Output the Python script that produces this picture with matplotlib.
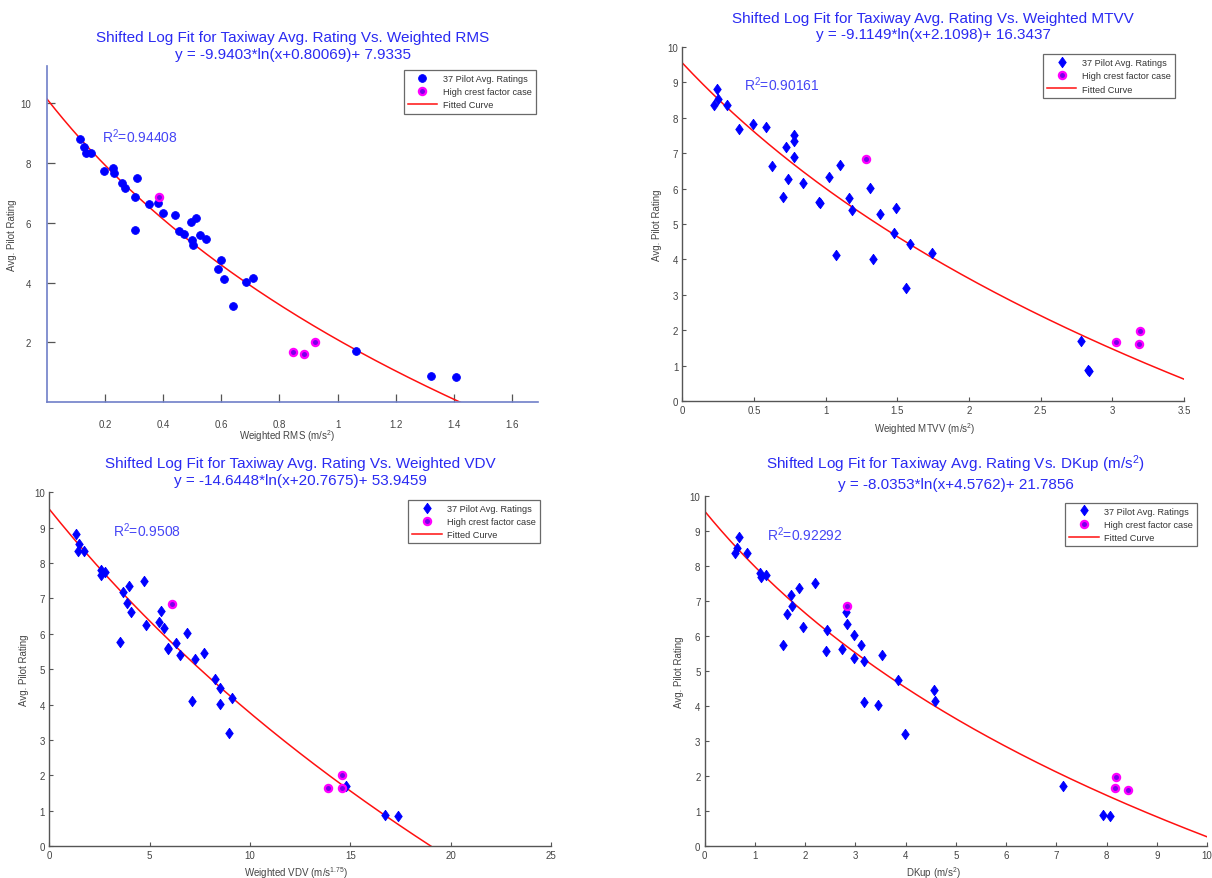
import numpy as np
import matplotlib as mpl
mpl.use("Agg")
import matplotlib.pyplot as plt
from matplotlib.ticker import FormatStrFormatter

mpl.rcParams['font.family'] = ['Liberation Sans', 'DejaVu Sans']
mpl.rcParams['mathtext.fontset'] = 'custom'
mpl.rcParams['mathtext.rm'] = 'Liberation Sans'
mpl.rcParams['mathtext.it'] = 'Liberation Sans:italic'

TITLE_BLUE = '#2a2af2'
R2_BLUE = '#4646f5'
LABEL_GREY = '#444444'

# ---- panel 1: weighted RMS ----
rms_x = [0.113, 0.126, 0.133, 0.151, 0.195, 0.228, 0.231, 0.258, 0.268, 0.309, 0.302,
         0.302, 0.351, 0.383, 0.400, 0.439, 0.455, 0.471, 0.494, 0.514, 0.500, 0.503,
         0.528, 0.548, 0.599, 0.590, 0.610, 0.684, 0.708, 0.640, 1.065, 1.323, 1.408]
rms_y = [8.82, 8.54, 8.35, 8.35, 7.73, 7.85, 7.68, 7.34, 7.18, 7.49, 6.86,
         5.75, 6.62, 6.65, 6.33, 6.26, 5.73, 5.64, 6.03, 6.16, 5.42, 5.26,
         5.59, 5.47, 4.74, 4.44, 4.11, 4.02, 4.16, 3.20, 1.71, 0.87, 0.84]
rms_crest_x = [0.385, 0.848, 0.885, 0.922]
rms_crest_y = [6.86, 1.67, 1.62, 2.00]

# ---- panel 2: weighted MTVV ----
mtvv_x = [0.218, 0.242, 0.245, 0.313, 0.392, 0.492, 0.585, 0.720, 0.780, 0.780, 0.780,
          0.623, 0.734, 0.704, 0.843, 0.952, 0.957, 1.025, 1.101, 1.072, 1.164, 1.180,
          1.308, 1.327, 1.376, 1.488, 1.479, 1.588, 1.558, 1.740, 2.782, 2.828, 2.834]
mtvv_y = [8.37, 8.81, 8.52, 8.36, 7.68, 7.81, 7.73, 7.18, 7.51, 7.35, 6.89,
          6.64, 6.27, 5.75, 6.17, 5.61, 5.58, 6.32, 6.66, 4.13, 5.73, 5.40,
          6.03, 4.01, 5.27, 5.46, 4.74, 4.45, 3.20, 4.18, 1.71, 0.88, 0.85]
mtvv_crest_x = [1.278, 3.024, 3.185, 3.196]
mtvv_crest_y = [6.84, 1.66, 1.62, 1.98]

# ---- panel 3: weighted VDV ----
vdv_x = [1.32, 1.49, 1.42, 1.73, 2.58, 2.58, 2.79, 4.73, 3.95, 3.68, 3.86,
         4.06, 5.55, 4.84, 5.46, 5.71, 3.52, 5.89, 5.92, 6.30, 6.87, 6.53,
         7.28, 7.72, 8.24, 8.49, 8.49, 9.11, 7.10, 8.97, 14.77, 16.73, 17.38]
vdv_y = [8.82, 8.53, 8.35, 8.35, 7.81, 7.67, 7.74, 7.50, 7.34, 7.19, 6.87,
         6.63, 6.66, 6.25, 6.33, 6.17, 5.76, 5.59, 5.56, 5.73, 6.03, 5.39,
         5.28, 5.46, 4.73, 4.46, 4.01, 4.18, 4.11, 3.20, 1.71, 0.87, 0.85]
vdv_crest_x = [6.09, 13.90, 14.60, 14.60]
vdv_crest_y = [6.85, 1.66, 1.64, 2.00]

# ---- panel 4: DKup ----
dkup_x = [0.61, 0.65, 0.68, 0.85, 1.10, 1.12, 1.22, 2.19, 1.88, 1.72, 1.74,
          1.63, 2.82, 1.95, 2.84, 2.44, 1.55, 2.42, 2.73, 2.98, 2.97, 3.12,
          3.17, 3.54, 3.84, 4.56, 4.58, 3.18, 3.46, 3.99, 7.13, 7.93, 8.07]
dkup_y = [8.38, 8.52, 8.83, 8.36, 7.81, 7.67, 7.74, 7.50, 7.36, 7.18, 6.86,
          6.62, 6.67, 6.26, 6.33, 6.18, 5.74, 5.58, 5.62, 6.02, 5.38, 5.73,
          5.29, 5.46, 4.73, 4.46, 4.14, 4.11, 4.02, 3.19, 1.70, 0.88, 0.84]
dkup_crest_x = [2.84, 8.16, 8.19, 8.42]
dkup_crest_y = [6.86, 1.65, 1.97, 1.60]

# shifted log fit coefficients y = a*ln(x+b) + c, from the titles
fit_a = [-9.9403, -9.1149, -14.6448, -8.0353]
fit_b = [0.80069, 2.1098, 20.7675, 4.5762]
fit_c = [7.9335, 16.3437, 53.9459, 21.7856]
r2_text = ['0.94408', '0.90161', '0.9508', '0.92292']

titles = [
    'Shifted Log Fit for Taxiway Avg. Rating Vs. Weighted RMS\ny = -9.9403*ln(x+0.80069)+ 7.9335',
    'Shifted Log Fit for Taxiway Avg. Rating Vs. Weighted MTVV\ny = -9.1149*ln(x+2.1098)+ 16.3437',
    'Shifted Log Fit for Taxiway Avg. Rating Vs. Weighted VDV\ny = -14.6448*ln(x+20.7675)+ 53.9459',
    'Shifted Log Fit for Taxiway Avg. Rating Vs. DKup (m/s$^2$)\ny = -8.0353*ln(x+4.5762)+ 21.7856',
]
xlabels = ['Weighted RMS (m/s$^2$)', 'Weighted MTVV (m/s$^2$)',
           'Weighted VDV (m/s$^{1.75}$)', 'DKup (m/s$^2$)']
xticks = [[0.2, 0.4, 0.6, 0.8, 1.0, 1.2, 1.4, 1.6],
          [0, 0.5, 1, 1.5, 2, 2.5, 3, 3.5],
          [0, 5, 10, 15, 20, 25],
          [0, 1, 2, 3, 4, 5, 6, 7, 8, 9, 10]]

# layout (figure fractions) and per-panel settings
rects = [[0.0388, 0.5415, 0.4051, 0.3823],
         [0.5631, 0.5423, 0.4138, 0.4034],
         [0.0407, 0.0361, 0.4140, 0.4027],
         [0.5814, 0.0367, 0.4145, 0.3980]]
xlims = [(0, 1.69), (0, 3.5), (0, 25), (0, 10)]
ylims = [(0, 11.25), (0, 10), (0, 10), (0, 10)]
r2_pos = [(0.19, 8.9), (0.43, 8.95), (3.15, 8.95), (1.24, 8.93)]
xlabel_pos = [(0.489, -0.074), (0.484, -0.053), (0.4925, -0.05), (0.456, -0.052)]
ylabel_pos = [-0.062, -0.040, -0.040, -0.041]
leg_anchor = [(0.995, 0.988), (0.982, 0.979), (0.978, 0.979), (0.9805, 0.981)]

data = [(rms_x, rms_y, rms_crest_x, rms_crest_y),
        (mtvv_x, mtvv_y, mtvv_crest_x, mtvv_crest_y),
        (vdv_x, vdv_y, vdv_crest_x, vdv_crest_y),
        (dkup_x, dkup_y, dkup_crest_x, dkup_crest_y)]

# MATLAB-like diamond, a bit taller than wide
diamond = [(0, 1), (0.72, 0), (0, -1), (-0.72, 0), (0, 1)]

fig = plt.figure(figsize=(12.12, 8.79), dpi=100)

for i in range(4):
    ax = fig.add_axes(rects[i])
    xs, ys, cx, cy = data[i]
    if i == 0:
        mk, ms = 'o', 5.6
    else:
        mk, ms = diamond, 7.5
    ax.plot(xs, ys, linestyle='none', marker=mk, markersize=ms, color='#0000ff',
            markeredgewidth=0.6, label='37 Pilot Avg. Ratings', zorder=3)
    ax.plot(cx, cy, linestyle='none', marker='o', markersize=5.2, markerfacecolor='#7a00e8',
            markeredgecolor='#ff00ff', markeredgewidth=1.6, label='High crest factor case', zorder=4)
    xx = np.linspace(xlims[i][0], xlims[i][1], 300)
    ax.plot(xx, fit_a[i] * np.log(xx + fit_b[i]) + fit_c[i], color='#ff1010', linewidth=1.1,
            label='Fitted Curve', zorder=2)

    ax.set_xlim(xlims[i])
    ax.set_ylim(ylims[i])
    ax.text(r2_pos[i][0], r2_pos[i][1], 'R$^2$=' + r2_text[i], color=R2_BLUE, fontsize=10,
            va='center', ha='left')
    ax.set_title(titles[i], color=TITLE_BLUE, fontsize=11, linespacing=1.25, pad=6)
    ax.set_xlabel(xlabels[i], fontsize=7, color=LABEL_GREY)
    ax.set_ylabel('Avg. Pilot Rating', fontsize=7, color=LABEL_GREY)
    ax.xaxis.set_label_coords(*xlabel_pos[i])
    ax.yaxis.set_label_coords(ylabel_pos[i], 0.5)

    ax.set_xticks(xticks[i])
    ax.xaxis.set_major_formatter(FormatStrFormatter('%g'))

    for s in ['top', 'right']:
        ax.spines[s].set_visible(False)

    if i == 0:
        ax.set_yticks([2, 4, 6, 8, 10])
        for s in ['left', 'bottom']:
            ax.spines[s].set_color('#6f7fc8')
            ax.spines[s].set_linewidth(1.2)
        ax.tick_params(direction='in', length=6, width=0.9, color='#555555',
                       labelsize=7, labelcolor=LABEL_GREY)
        ax.tick_params(axis='y', pad=11.5)
        ax.tick_params(axis='x', pad=12)
    else:
        ax.set_yticks(range(0, 11))
        for s in ['left', 'bottom']:
            ax.spines[s].set_color('#555555')
            ax.spines[s].set_linewidth(1.0)
        ax.tick_params(direction='in', length=3, width=0.8, color='#555555',
                       labelsize=7, labelcolor=LABEL_GREY, pad=3)

    leg = ax.legend(loc='upper right', bbox_to_anchor=leg_anchor[i], fontsize=6.6,
                    frameon=True, fancybox=False, borderaxespad=0, handlelength=3.2,
                    borderpad=0.45, labelspacing=0.45, handletextpad=0.6)
    leg.get_frame().set_edgecolor('#444444')
    leg.get_frame().set_linewidth(0.9)
    for t in leg.get_texts():
        t.set_color('#333333')

fig.savefig('out.png', dpi=100)
